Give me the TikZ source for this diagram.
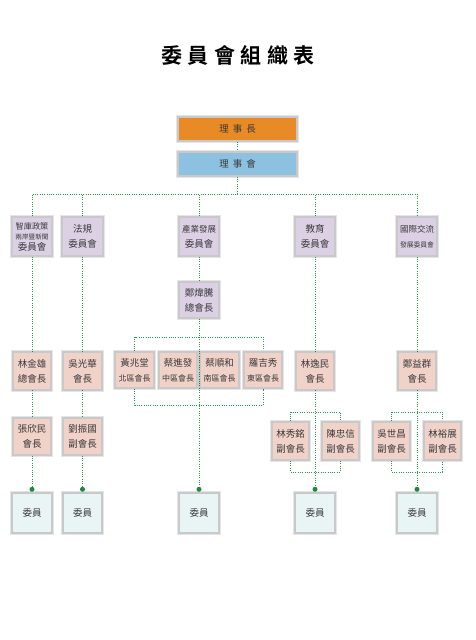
\documentclass[tikz,border=0pt]{standalone}
\usepackage{fontspec}
\newfontfamily\cjk{Noto Sans CJK TC}
\newfontfamily\cjkb{Noto Sans CJK TC Bold}
\usetikzlibrary{shadows,backgrounds}
\definecolor{orangec}{HTML}{E88A25}
\definecolor{bluec}{HTML}{8DC1E0}
\definecolor{purplec}{HTML}{DCD0E5}
\definecolor{pinkc}{HTML}{F1D2C9}
\definecolor{memberc}{HTML}{E9F4F5}
\definecolor{linec}{HTML}{2E9B55}
\definecolor{dotc}{HTML}{1B8A3C}
\definecolor{txtc}{HTML}{3A3A3A}
\newcommand\myfs[2]{\fontsize{#1}{#2}\selectfont}
\tikzset{
  box/.style={draw=gray!42, line width=1.4pt,
    minimum width=38pt, minimum height=37pt, inner sep=0pt, align=center,
    font=\cjk\myfs{9.5}{15}, text=txtc,
    preaction={draw=black, line width=4.2pt, opacity=0.1},
    preaction={draw=black, line width=2.8pt, opacity=0.12}},
  topbox/.style={box, minimum width=119pt, minimum height=24pt, font=\cjk\myfs{9.5}{11}},
  combox/.style={box, fill=purplec, minimum width=40pt, minimum height=39pt},
  pinkbox/.style={box, fill=pinkc},
  subbox/.style={box, fill=pinkc, minimum width=37pt, minimum height=38pt},
  membox/.style={box, fill=memberc, minimum width=39pt, minimum height=39pt},
  conn/.style={draw=linec, line width=0.9pt, dash pattern=on 0.9pt off 1.4pt},
  enddot/.style={circle, fill=dotc, inner sep=0pt, minimum size=5pt}
}
\begin{document}
\begin{tikzpicture}[x=1pt, y=-1pt]
\useasboundingbox (0,0) rectangle (475,640);

\node (title) at (238,55) {\cjkb\myfs{21}{21}委\hspace{5.5pt}員\hspace{5.5pt}會\hspace{5.5pt}組\hspace{5.5pt}織\hspace{5.5pt}表};

\node[topbox, fill=orangec] (ceo) at (237.5,129) {理\hspace{4pt}事\hspace{4pt}長};
\node[topbox, fill=bluec] (board) at (237.5,164) {理\hspace{4pt}事\hspace{4pt}會};

\coordinate (busA) at (0,194);
\node[combox, font=\cjk\myfs{8}{10.5}] (com1) at (32,236.5) {\myfs{8.2}{10.5}智庫政策\\\myfs{6.6}{10.5}兩岸暨新聞\\\myfs{9.5}{10.5}委員會};
\node[combox] (com2) at (82.5,236.5) {法規\\委員會};
\node[combox] (com3) at (199,236.5) {\myfs{8.5}{15}產業發展\\\myfs{9.5}{15}委員會};
\node[combox] (com4) at (315,236.5) {教育\\委員會};
\node[combox] (com5) at (417,236.5) {\myfs{8.5}{14}國際交流\\\myfs{6.8}{14}發展委員會};

\node[combox, minimum width=39pt, minimum height=36pt] (pres) at (199,300) {鄭煒騰\\總會長};

\coordinate (hbA) at (0,337);
\coordinate (hbB) at (0,405);
\node[pinkbox, minimum height=36pt] (d1) at (134.5,370) {黃兆堂\\\myfs{8}{15}北區會長};
\node[pinkbox, minimum height=36pt] (d2) at (178,370) {蔡進發\\\myfs{8}{15}中區會長};
\node[pinkbox, minimum height=36pt] (d3) at (219.5,370) {蔡順和\\\myfs{8}{15}南區會長};
\node[pinkbox, minimum height=36pt] (d4) at (263,370) {羅吉秀\\\myfs{8}{15}東區會長};

\node[pinkbox] (r1) at (32,371) {林金雄\\總會長};
\node[pinkbox] (r2) at (82.5,371) {吳光華\\會長};
\node[pinkbox] (r4) at (315,371) {林逸民\\會長};
\node[pinkbox] (r5) at (417,371) {鄭益群\\會長};

\node[pinkbox] (s1) at (32,436.5) {張欣民\\會長};
\node[pinkbox] (s2) at (82.5,436.5) {劉振國\\副會長};

\coordinate (hbC) at (0,412);
\coordinate (hbD) at (0,472);
\node[subbox] (s4a) at (290.5,441) {林秀銘\\副會長};
\node[subbox] (s4b) at (340.5,441) {陳忠信\\副會長};
\node[subbox] (s5a) at (391.5,441) {吳世昌\\副會長};
\node[subbox] (s5b) at (442.5,441) {林裕展\\副會長};

\node[membox] (m1) at (32,513) {委員};
\node[membox] (m2) at (82.5,513) {委員};
\node[membox] (m3) at (199,513) {委員};
\node[membox] (m4) at (315,513) {委員};
\node[membox] (m5) at (417,513) {委員};

\begin{scope}[on background layer]
\fill[white] (0,0) rectangle (475,640);
\draw[conn] (ceo.south) -- (board.north);
\draw[conn] (board.south) -- (board.south |- busA);
\draw[conn] (com1.north) -- (com1.north |- busA) -- (com5.north |- busA) -- (com5.north);
\draw[conn] (com2.north) -- (com2.north |- busA);
\draw[conn] (com3.north) -- (com3.north |- busA);
\draw[conn] (com4.north) -- (com4.north |- busA);
% column 1
\draw[conn] (com1.south) -- (r1.north);
\draw[conn] (r1.south) -- (s1.north);
\draw[conn] (s1.south) -- ([yshift=3.5pt]m1.north);
% column 2
\draw[conn] (com2.south) -- (r2.north);
\draw[conn] (r2.south) -- (s2.north);
\draw[conn] (s2.south) -- ([yshift=3.5pt]m2.north);
% column 3
\draw[conn] (com3.south) -- (pres.north);
\draw[conn] (pres.south) -- ([yshift=3.5pt]m3.north);
\draw[conn] (d1.north) -- (d1.north |- hbA) -- (d4.north |- hbA) -- (d4.north);
\draw[conn] (d1.south) -- (d1.south |- hbB) -- (d4.south |- hbB) -- (d4.south);
% column 4
\draw[conn] (com4.south) -- (r4.north);
\draw[conn] (r4.south) -- ([yshift=3.5pt]m4.north);
\draw[conn] (s4a.north) -- (s4a.north |- hbC) -- (s4b.north |- hbC) -- (s4b.north);
\draw[conn] (s4a.south) -- (s4a.south |- hbD) -- (s4b.south |- hbD) -- (s4b.south);
% column 5
\draw[conn] (com5.south) -- (r5.north);
\draw[conn] (r5.south) -- ([yshift=3.5pt]m5.north);
\draw[conn] (s5a.north) -- (s5a.north |- hbC) -- (s5b.north |- hbC) -- (s5b.north);
\draw[conn] (s5a.south) -- (s5a.south |- hbD) -- (s5b.south |- hbD) -- (s5b.south);
\end{scope}

\node[enddot] (e1) at ([yshift=3.5pt]m1.north) {};
\node[enddot] (e2) at ([yshift=3.5pt]m2.north) {};
\node[enddot] (e3) at ([yshift=3.5pt]m3.north) {};
\node[enddot] (e4) at ([yshift=3.5pt]m4.north) {};
\node[enddot] (e5) at ([yshift=3.5pt]m5.north) {};
\end{tikzpicture}
\end{document}
